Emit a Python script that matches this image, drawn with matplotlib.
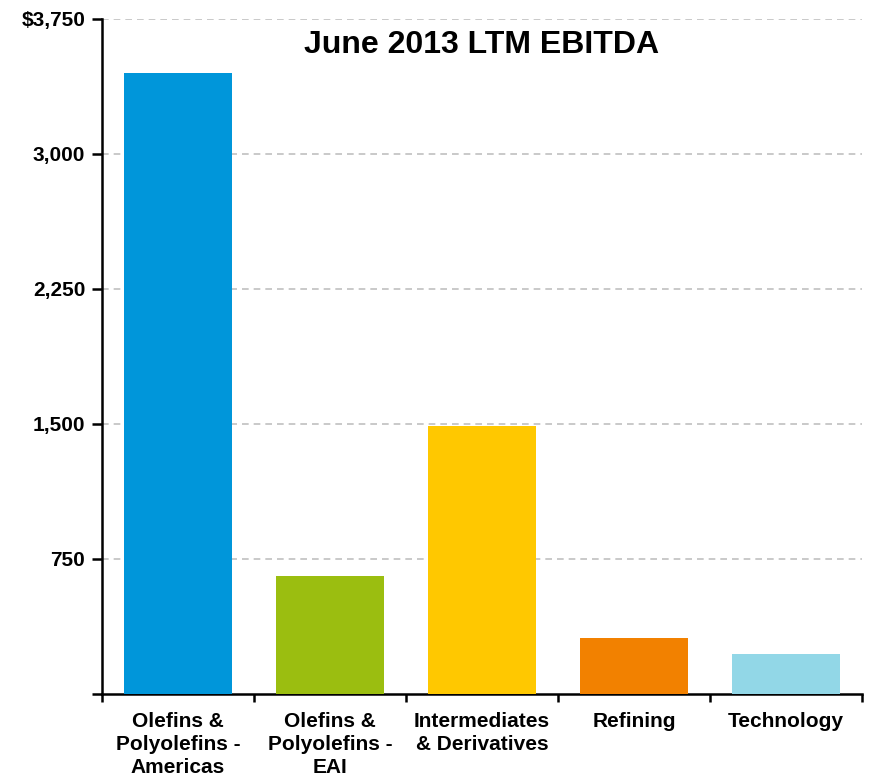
import matplotlib
matplotlib.use("Agg")
import matplotlib.pyplot as plt
import numpy as np
from matplotlib.ticker import FixedLocator

categories = ["Olefins &\nPolyolefins -\nAmericas", "Olefins &\nPolyolefins -\nEAI",
              "Intermediates\n& Derivatives", "Refining", "Technology"]
ebitda = [3450, 655, 1488, 311, 222]
bar_colors = ["#0096DA", "#9BBE10", "#FFC800", "#F28100", "#92D7E7"]
y_ticks = [0, 750, 1500, 2250, 3000, 3750]
y_labels = ["", "750", "1,500", "2,250", "3,000", "$3,750"]
title = "June 2013 LTM EBITDA"

plt.rcParams["font.family"] = ["Liberation Sans", "DejaVu Sans"]

fig = plt.figure(figsize=(8.7, 7.8), dpi=100)
ax = fig.add_axes([102 / 870, 1 - 694 / 780, 760 / 870, 675 / 780])

x = np.arange(len(categories))
ax.bar(x, ebitda, width=0.71, color=bar_colors, zorder=3)

ax.set_xlim(-0.5, len(categories) - 0.5)
ax.set_ylim(0, 3750)

ax.set_yticks(y_ticks)
ax.set_yticklabels(y_labels, fontsize=15, fontweight="bold")
for v in y_ticks[1:]:
    ax.axhline(v, color="#C0C0C0", linestyle=(0, (4, 3)), linewidth=1.2, zorder=1)

ax.set_xticks(x)
ax.set_xticklabels(categories, fontsize=15, fontweight="bold", linespacing=1.28)
ax.tick_params(axis="x", which="major", length=0, pad=13)
ax.xaxis.set_minor_locator(FixedLocator(np.arange(-0.5, len(categories), 1.0)))
ax.tick_params(axis="x", which="minor", length=6, width=1.8, direction="out")
ax.tick_params(axis="y", length=7, width=1.8, direction="out", pad=5)

for side in ("top", "right"):
    ax.spines[side].set_visible(False)
for side in ("left", "bottom"):
    ax.spines[side].set_linewidth(1.8)

ax.text(0.5, 1 - 26 / 675, title, transform=ax.transAxes, ha="center", va="center",
        fontsize=23, fontweight="bold")

fig.savefig("out.png", dpi=100)
